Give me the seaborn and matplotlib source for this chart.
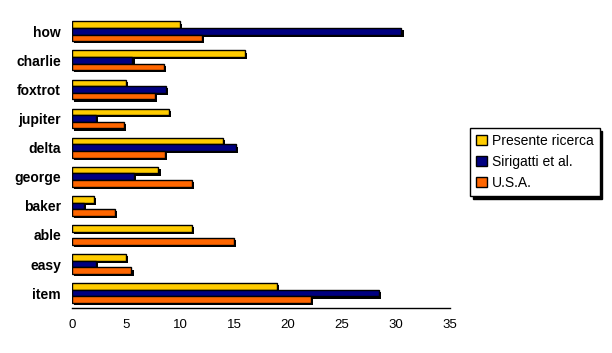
import matplotlib
matplotlib.use("Agg")
import matplotlib.pyplot as plt
import matplotlib.patheffects as pe
from matplotlib.patches import Patch
import numpy as np
import pandas as pd
import seaborn as sns

categories = ["how", "charlie", "foxtrot", "jupiter", "delta", "george", "baker", "able", "easy", "item"]
presente = [10.0, 16.0, 5.0, 9.0, 14.0, 8.0, 2.0, 11.1, 5.0, 19.0]
sirigatti = [30.5, 5.6, 8.7, 2.2, 15.2, 5.7, 1.1, np.nan, 2.2, 28.4]
usa = [12.0, 8.5, 7.7, 4.8, 8.6, 11.1, 4.0, 15.0, 5.5, 22.1]
series_names = ["Presente ricerca", "Sirigatti et al.", "U.S.A."]
colors = ["#FFCC00", "#000080", "#FF6600"]
xticks = [0, 5, 10, 15, 20, 25, 30, 35]

rows = []
for name, vals in zip(series_names, [presente, sirigatti, usa]):
    for c, v in zip(categories, vals):
        rows.append({"cat": c, "series": name, "value": v})
df = pd.DataFrame(rows)

sns.set_style("white")
plt.rcParams["font.family"] = ["Liberation Sans", "DejaVu Sans"]
plt.rcParams["text.color"] = "black"
plt.rcParams["xtick.color"] = "black"
plt.rcParams["ytick.color"] = "black"

fig = plt.figure(figsize=(6.12, 3.53), dpi=100)
ax = fig.add_axes([72 / 612, 1 - 307.7 / 353, 378 / 612, 291 / 353])

sns.barplot(data=df, y="cat", x="value", hue="series", order=categories,
            hue_order=series_names, palette=colors, orient="h", width=0.68,
            edgecolor="black", linewidth=1.0, ax=ax, legend=False, errorbar=None,
            saturation=1)

shadow = [pe.SimplePatchShadow(offset=(1.6, -1.6), shadow_rgbFace="black", alpha=1.0), pe.Normal()]
for p in ax.patches:
    p.set_path_effects(shadow)

ax.set_xlim(0, 35)
ax.set_xticks(xticks)
ax.set_xticklabels([str(t) for t in xticks], fontsize=9.5, color="black")
ax.set_xlabel("")
ax.set_ylabel("")
ax.tick_params(axis="x", direction="out", length=4, width=1.0, color="black", pad=4)
ax.tick_params(axis="y", length=0, pad=8)
for lbl in ax.get_yticklabels():
    lbl.set_fontweight("bold")
    lbl.set_fontsize(10)
    lbl.set_color("black")
for s in ["left", "right", "top"]:
    ax.spines[s].set_visible(False)
ax.spines["bottom"].set_color("black")
ax.spines["bottom"].set_linewidth(1.0)
ax.grid(False)

handles = [Patch(facecolor=c, edgecolor="black", linewidth=1.0) for c in colors]
leg = fig.legend(handles, series_names, loc="center left",
                 bbox_to_anchor=(470 / 612, 1 - 162 / 353), fontsize=10,
                 frameon=True, fancybox=False, edgecolor="black",
                 shadow={"color": "black", "alpha": 1.0, "ox": 2, "oy": -2},
                 handlelength=0.75, handleheight=0.75, handletextpad=0.35,
                 labelspacing=0.5, borderpad=0.45, borderaxespad=0)
leg.get_frame().set_linewidth(1.0)
for t in leg.get_texts():
    t.set_color("black")

fig.savefig("out.png", dpi=100)
